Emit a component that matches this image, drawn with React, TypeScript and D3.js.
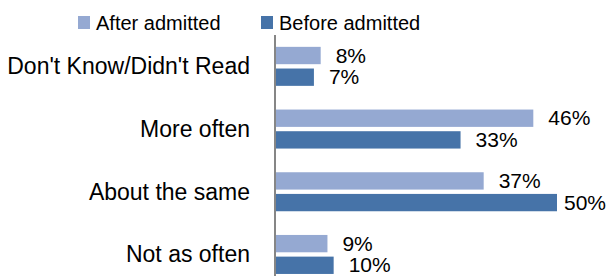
import { useEffect, useRef } from 'react';
import * as d3 from 'd3';

const categories = ["Don't Know/Didn't Read", 'More often', 'About the same', 'Not as often'];
const seriesNames = ['After admitted', 'Before admitted'];
const afterValues = [8.1, 45.8, 37.0, 9.3];
const beforeValues = [6.9, 32.9, 50.0, 10.4];
const seriesColors = ['#95A9D2', '#4673A8'];

const WIDTH = 610;
const HEIGHT = 276;
const FONT = '"Liberation Sans", Arial, sans-serif';

export default function App() {
  const ref = useRef<SVGSVGElement>(null);

  useEffect(() => {
    const svgEl = d3.select(ref.current);
    svgEl.selectAll('*').remove();

    const axisX = 275;
    const plotTop = 35;
    const step = 62.7;
    const labelRightLimit = 606;

    const x = d3.scaleLinear().domain([0, 50]).range([axisX, 557]);
    const y0 = d3
      .scaleBand<string>()
      .domain(categories)
      .range([plotTop, plotTop + step * categories.length])
      .paddingInner(0.378)
      .paddingOuter(0.189);
    const y1 = d3.scaleBand<string>().domain(seriesNames).range([0, y0.bandwidth()]).paddingInner(0.2);

    const rows = categories.map((category, i) => ({
      category,
      values: [afterValues[i], beforeValues[i]],
    }));

    // bars + value labels
    const groups = svgEl
      .append('g')
      .selectAll('g')
      .data(rows)
      .enter()
      .append('g')
      .attr('transform', (d) => `translate(0, ${y0(d.category)})`);

    const cells = groups
      .selectAll('g')
      .data((d) => d.values.map((value, si) => ({ value, si })))
      .enter()
      .append('g');

    cells
      .append('rect')
      .attr('x', x(0))
      .attr('y', (d) => y1(seriesNames[d.si])!)
      .attr('width', (d) => x(d.value) - x(0))
      .attr('height', y1.bandwidth())
      .attr('fill', (d) => seriesColors[d.si]);

    cells
      .append('text')
      .attr('x', (d) => x(d.value) + 15)
      .attr('y', (d) => y1(seriesNames[d.si])! + y1.bandwidth() / 2 + 7)
      .attr('font-family', FONT)
      .attr('font-size', 21)
      .attr('fill', '#000')
      .text((d) => `${Math.round(d.value)}%`)
      .each(function () {
        // keep labels inside the chart area like Excel does
        const el = this as SVGTextElement;
        const w = el.getComputedTextLength();
        const cur = +el.getAttribute('x')!;
        if (cur + w > labelRightLimit) el.setAttribute('x', String(labelRightLimit - w));
      });

    // category labels
    svgEl
      .append('g')
      .selectAll('text')
      .data(categories)
      .enter()
      .append('text')
      .attr('x', 250)
      .attr('y', (d) => y0(d)! + y0.bandwidth() / 2 + 8)
      .attr('text-anchor', 'end')
      .attr('font-family', FONT)
      .attr('font-size', 23)
      .attr('fill', '#000')
      .text((d) => d);

    // vertical axis line
    svgEl
      .append('line')
      .attr('x1', axisX)
      .attr('x2', axisX)
      .attr('y1', plotTop)
      .attr('y2', HEIGHT)
      .attr('stroke', '#868686')
      .attr('stroke-width', 2);

    // legend
    const legendX = [78, 261];
    const legend = svgEl
      .append('g')
      .selectAll('g')
      .data(seriesNames)
      .enter()
      .append('g')
      .attr('transform', (_, i) => `translate(${legendX[i]}, 0)`);

    legend
      .append('rect')
      .attr('x', 0)
      .attr('y', 16)
      .attr('width', 12)
      .attr('height', 13)
      .attr('fill', (_, i) => seriesColors[i]);

    legend
      .append('text')
      .attr('x', 18)
      .attr('y', 30)
      .attr('font-family', FONT)
      .attr('font-size', 20)
      .attr('fill', '#000')
      .text((d) => d);
  }, []);

  return (
    <div style={{ position: 'fixed', left: 0, top: 0, background: '#fff' }}>
      <svg ref={ref} width={WIDTH} height={HEIGHT} style={{ display: 'block' }} />
    </div>
  );
}
